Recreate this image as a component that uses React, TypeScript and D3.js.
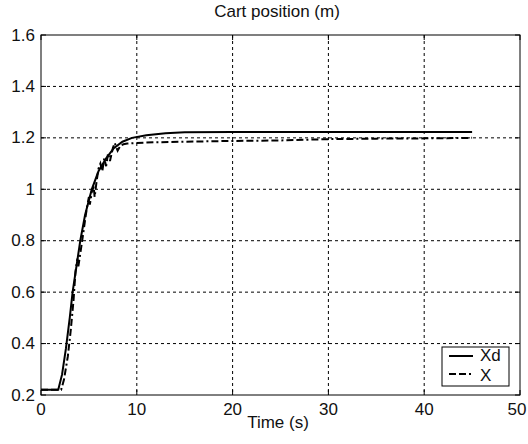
import React from 'react'
import * as d3 from 'd3'

// reference trajectory Xd (time s, position m)
const xdTime = [0, 1.8, 2.2, 2.6, 3.0, 3.3, 3.7, 4.1, 4.6, 5.3, 6.0, 6.8, 7.6, 8.5, 9.5, 11, 13, 15, 20, 30, 45]
const xdPos = [0.22, 0.22, 0.28, 0.38, 0.5, 0.6, 0.7, 0.8, 0.9, 1.0, 1.07, 1.12, 1.16, 1.185, 1.2, 1.21, 1.218, 1.222, 1.223, 1.223, 1.223]

// measured cart position X
const xTime = [0, 2.1, 2.4, 2.8, 3.1, 3.4, 3.6, 3.8, 3.9, 4.1, 4.3, 4.6, 4.8, 5.0, 5.1, 5.3, 5.5, 5.6, 5.8, 6.0, 6.2, 6.4, 6.6, 6.8, 7.0, 7.2, 7.5, 7.7, 8.0, 8.3, 8.6, 9, 10, 12, 15, 20, 25, 30, 35, 40, 45]
const xPos = [0.22, 0.22, 0.26, 0.35, 0.45, 0.57, 0.68, 0.73, 0.7, 0.75, 0.8, 0.88, 0.93, 0.97, 0.94, 0.99, 1.01, 0.97, 1.03, 1.08, 1.1, 1.07, 1.12, 1.09, 1.14, 1.11, 1.16, 1.18, 1.15, 1.17, 1.175, 1.178, 1.18, 1.183, 1.185, 1.188, 1.19, 1.195, 1.197, 1.198, 1.2]

const xTicks = [0, 10, 20, 30, 40, 50]
const yTicks = [0.2, 0.4, 0.6, 0.8, 1, 1.2, 1.4, 1.6]
const legendLabels = ['Xd', 'X']

const W = 528
const H = 444
const left = 41
const right = 520
const top = 35
const bottom = 395
const font = '"Liberation Sans", Arial, sans-serif'
const seriesDash = '7,3,7,3,2,3'

export default function App() {
	const x = d3.scaleLinear().domain([0, 50]).range([left, right])
	const y = d3.scaleLinear().domain([0.2, 1.6]).range([bottom, top])

	const line = d3
		.line<[number, number]>()
		.x(d => x(d[0]))
		.y(d => y(d[1]))

	const xd = xdTime.map((t, i) => [t, xdPos[i]] as [number, number])
	const xm = xTime.map((t, i) => [t, xPos[i]] as [number, number])

	return (
		<svg
			width={W}
			height={H}
			style={{ position: 'absolute', left: 0, top: 0, background: '#fff' }}
			fontFamily={font}
		>
			<rect x={0} y={0} width={W} height={H} fill="#fff" />

			{/* grid */}
			<g stroke="#000" strokeWidth={1} strokeDasharray="3,3">
				{xTicks.slice(1, -1).map(t => (
					<line key={t} x1={x(t)} x2={x(t)} y1={top} y2={bottom} />
				))}
				{yTicks.slice(1, -1).map(t => (
					<line key={t} x1={left} x2={right} y1={y(t)} y2={y(t)} />
				))}
			</g>

			{/* tick marks */}
			<g stroke="#000" strokeWidth={1}>
				{xTicks.map(t => (
					<g key={t}>
						<line x1={x(t)} x2={x(t)} y1={bottom} y2={bottom - 5} />
						<line x1={x(t)} x2={x(t)} y1={top} y2={top + 5} />
					</g>
				))}
				{yTicks.map(t => (
					<g key={t}>
						<line x1={left} x2={left + 5} y1={y(t)} y2={y(t)} />
						<line x1={right} x2={right - 5} y1={y(t)} y2={y(t)} />
					</g>
				))}
			</g>

			{/* data */}
			<path d={line(xd) || ''} fill="none" stroke="#000" strokeWidth={2} />
			<path d={line(xm) || ''} fill="none" stroke="#000" strokeWidth={2} strokeDasharray={seriesDash} />

			<rect x={left} y={top} width={right - left} height={bottom - top} fill="none" stroke="#000" strokeWidth={1} />

			{/* tick labels */}
			<g fontSize={17} fill="#111">
				{xTicks.map(t => (
					<text key={t} x={x(t) - (t === 50 ? 3 : 0)} y={415} textAnchor="middle">{t}</text>
				))}
				{yTicks.map(t => (
					<text key={t} x={35} y={y(t)} textAnchor="end" dominantBaseline="central">{d3.format('~g')(t)}</text>
				))}
			</g>

			<text x={277} y={17} fontSize={17} textAnchor="middle" fill="#111">Cart position (m)</text>
			<text x={278} y={428} fontSize={17} textAnchor="middle" fill="#111">Time (s)</text>

			{/* legend */}
			<g>
				<rect x={442} y={347} width={67} height={39} fill="#fff" stroke="#000" strokeWidth={1} />
				<line x1={449} x2={473} y1={356} y2={356} stroke="#000" strokeWidth={2} />
				<line x1={449} x2={473} y1={374} y2={374} stroke="#000" strokeWidth={2} strokeDasharray={seriesDash} />
				<text x={480} y={361} fontSize={17} fill="#111">{legendLabels[0]}</text>
				<text x={480} y={381} fontSize={17} fill="#111">{legendLabels[1]}</text>
			</g>
		</svg>
	)
}
